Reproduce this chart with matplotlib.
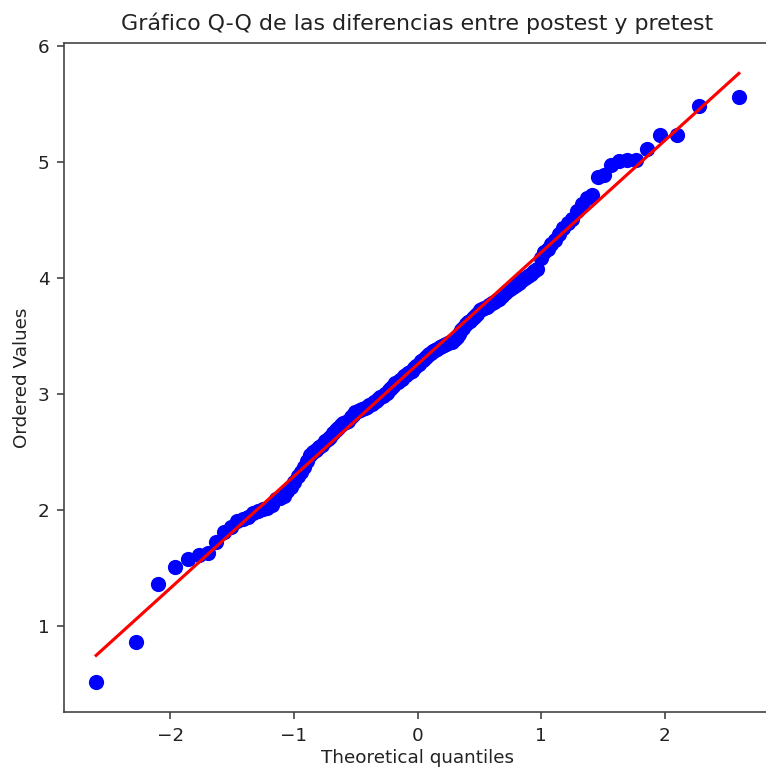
import numpy as np
import matplotlib
matplotlib.use("Agg")
import matplotlib.pyplot as plt
from statistics import NormalDist

# valores ordenados (diferencias postest - pretest)
ordered_values = [
    0.52, 0.86, 1.36, 1.51, 1.58, 1.61, 1.63, 1.72, 1.81, 1.85,
    1.90, 1.92, 1.94, 1.97, 1.99, 2.01, 2.02, 2.04, 2.09, 2.10,
    2.12, 2.16, 2.20, 2.24, 2.29, 2.33, 2.37, 2.42, 2.47, 2.50,
    2.52, 2.54, 2.56, 2.59, 2.61, 2.63, 2.66, 2.69, 2.71, 2.73,
    2.75, 2.76, 2.77, 2.80, 2.82, 2.84, 2.85, 2.86, 2.87, 2.88,
    2.89, 2.90, 2.91, 2.93, 2.94, 2.96, 2.97, 2.98, 3.00, 3.01,
    3.03, 3.05, 3.07, 3.09, 3.10, 3.12, 3.13, 3.15, 3.16, 3.18,
    3.19, 3.20, 3.22, 3.24, 3.26, 3.28, 3.29, 3.31, 3.33, 3.34,
    3.35, 3.37, 3.38, 3.39, 3.40, 3.41, 3.42, 3.43, 3.44, 3.45,
    3.45, 3.47, 3.49, 3.52, 3.55, 3.57, 3.60, 3.62, 3.63, 3.65,
    3.67, 3.69, 3.72, 3.73, 3.74, 3.75, 3.77, 3.78, 3.79, 3.81,
    3.82, 3.84, 3.87, 3.89, 3.90, 3.92, 3.94, 3.96, 3.98, 4.00,
    4.02, 4.03, 4.06, 4.08, 4.17, 4.22, 4.25, 4.29, 4.33, 4.38,
    4.43, 4.47, 4.51, 4.58, 4.64, 4.69, 4.71, 4.87, 4.89, 4.97,
    5.01, 5.02, 5.02, 5.115, 5.235, 5.235, 5.48, 5.56,
]

title = "Gráfico Q-Q de las diferencias entre postest y pretest"
xlabel = "Theoretical quantiles"
ylabel = "Ordered Values"

# cuantiles teoricos (medianas de Filliben, como scipy.stats.probplot)
n = len(ordered_values)
m = [(i - 0.3175) / (n + 0.365) for i in range(1, n + 1)]
m[-1] = 0.5 ** (1.0 / n)
m[0] = 1 - m[-1]
osm = np.array([NormalDist().inv_cdf(p) for p in m])
osr = np.array(ordered_values)
slope, intercept = np.polyfit(osm, osr, 1)

fig = plt.figure(figsize=(766 / 150, 768 / 150), dpi=150)
ax = fig.add_axes([64 / 766, 56 / 768, 707 / 766, 669 / 768])

ax.plot(osm, osr, 'bo', markersize=6.3)
ax.plot(osm, slope * osm + intercept, 'r-')
ax.set_title(title, fontsize=10.6, color='#222222')
ax.set_xlabel(xlabel, fontsize=8.8, color='#222222', labelpad=2)
ax.set_ylabel(ylabel, fontsize=8.8, color='#222222', labelpad=3)
ax.tick_params(labelsize=8.8, labelcolor='#222222', color='#444444')
for s in ax.spines.values():
    s.set_color('#444444')

fig.savefig("out.png", dpi=150)
